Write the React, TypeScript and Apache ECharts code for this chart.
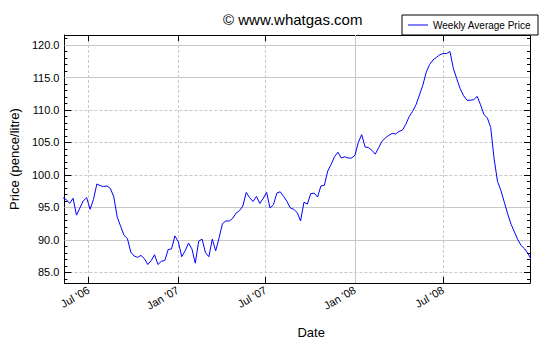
import React, { useEffect, useRef } from "react";
import * as echarts from "echarts";

const FONT = "'Liberation Sans', Arial, sans-serif";
const DAY = 86400000;

// weekly series start (first week is just left of the plot edge and gets clipped)
const seriesStart = Date.UTC(2006, 4, 9);
const seriesStepDays = 7;
const prices = [
  96.5, 96.2, 95.6, 96.4, 93.8, 94.9, 96.0, 96.5, 94.7, 96.2,
  98.6, 98.35, 98.2, 98.3, 97.9, 96.6, 93.5, 92.1, 90.7, 90.2,
  88.1, 87.5, 87.3, 87.6, 87.1, 86.2, 86.8, 87.7, 86.2, 86.7,
  86.8, 88.5, 88.6, 90.6, 89.7, 87.4, 88.3, 89.5, 88.6, 86.4,
  89.8, 90.1, 88.0, 87.4, 90.1, 88.3, 90.3, 92.5, 92.9, 92.9,
  93.3, 94.1, 94.5, 95.2, 97.3, 96.5, 95.9, 96.7, 95.6, 96.4,
  97.3, 94.9, 95.4, 97.2, 97.4, 96.7, 95.9, 94.9, 94.7, 94.2,
  92.9, 95.8, 95.5, 97.1, 97.2, 96.6, 98.3, 98.4, 100.6, 101.6,
  102.8, 103.5, 102.6, 102.8, 102.6, 102.6, 103.0, 105.0, 106.2, 104.3,
  104.2, 103.8, 103.2, 104.2, 105.2, 105.7, 106.1, 106.4, 106.3, 106.7,
  106.9, 107.8, 109.0, 109.8, 110.8, 112.3, 113.8, 115.8, 117.0, 117.7,
  118.1, 118.5, 118.7, 118.7, 119.0, 116.4, 114.8, 113.3, 112.2, 111.5,
  111.5, 111.6, 112.1, 110.8, 109.3, 108.8, 107.3, 102.5, 99.0, 97.6,
  95.8, 94.0, 92.4, 91.2, 90.0, 89.1, 88.6, 87.9, 86.9,
];

const xMin = Date.UTC(2006, 4, 12, 4);
const xMax = Date.UTC(2008, 11, 27);
const yMin = 83.35;
const yMax = 121.55;

const tickDates = [
  Date.UTC(2006, 6, 1),
  Date.UTC(2007, 0, 1),
  Date.UTC(2007, 6, 1),
  Date.UTC(2008, 0, 1),
  Date.UTC(2008, 6, 1),
];
const tickLabels = ["Jul '06", "Jan '07", "Jul '07", "Jan '08", "Jul '08"];

// grid lines that appear solid in the reference (the rest are dashed)
const solidGridY = [90, 95, 115, 120];
const solidGridX = [Date.UTC(2008, 0, 1)];

const seriesName = "Weekly Average Price";
const titleText = "\u00A9 www.whatgas.com";

export default function App() {
  const ref = useRef<HTMLDivElement>(null);

  useEffect(() => {
    if (!ref.current) return;
    const chart = echarts.init(ref.current, undefined, { renderer: "svg" });

    const data = prices.map((v, i) => [seriesStart + i * seriesStepDays * DAY, v]);

    const gridColor = "#c8c8c8";
    const dashed = { color: gridColor, width: 1, type: [3, 2] as any };

    const option: any = {
      animation: false,
      backgroundColor: "#ffffff",
      textStyle: { fontFamily: FONT },
      title: {
        text: titleText,
        left: 223,
        top: 12,
        padding: 0,
        textStyle: { fontSize: 15, fontWeight: "normal", color: "#000", fontFamily: FONT },
      },
      legend: {
        data: [seriesName],
        icon: "rect",
        left: 402,
        top: 15,
        padding: [5, 7, 5, 6],
        itemWidth: 20,
        itemHeight: 1,
        borderColor: "#000",
        borderWidth: 1,
        borderRadius: 0,
        backgroundColor: "#fff",
        textStyle: { fontSize: 10, color: "#000", fontFamily: FONT, padding: [0, 0, 0, 0] },
        z: 10,
      },
      grid: { left: 62, right: 20, top: 35, bottom: 67 },
      xAxis: [
        {
          type: "value",
          position: "bottom",
          min: xMin,
          max: xMax,
          name: "Date",
          nameLocation: "middle",
          nameGap: 43,
          nameTextStyle: { fontSize: 13, color: "#000", fontFamily: FONT, padding: [0, 0, 0, 28] },
          axisLine: { show: true, lineStyle: { color: "#000", width: 1 } },
          axisTick: { show: true, inside: true, length: 6, lineStyle: { color: "#000" }, customValues: tickDates },
          axisLabel: {
            customValues: tickDates,
            rotate: 30,
            margin: 6,
            fontSize: 11,
            color: "#000",
            fontFamily: FONT,
            showMinLabel: true,
            showMaxLabel: true,
            formatter: (v: number) => {
              const idx = tickDates.indexOf(v);
              return idx >= 0 ? tickLabels[idx] : "";
            },
          },
          splitLine: { show: true, lineStyle: dashed },
        },
        {
          type: "value",
          position: "top",
          min: xMin,
          max: xMax,
          axisLine: { show: true, lineStyle: { color: "#000", width: 1 } },
          axisTick: { show: true, inside: true, length: 6, lineStyle: { color: "#000" }, customValues: tickDates },
          axisLabel: { show: false, customValues: tickDates },
          splitLine: { show: false },
        },
      ],
      yAxis: [
        {
          type: "value",
          position: "left",
          min: yMin,
          max: yMax,
          splitNumber: 8,
          name: "Price (pence/litre)",
          nameLocation: "middle",
          nameGap: 37,
          nameTextStyle: { fontSize: 13, color: "#000", fontFamily: FONT },
          axisLine: { show: true, lineStyle: { color: "#000", width: 1 } },
          axisTick: { show: true, inside: true, length: 7, lineStyle: { color: "#000" } },
          minorTick: { show: true, splitNumber: 5, length: 3, lineStyle: { color: "#000" } },
          axisLabel: {
            fontSize: 11,
            margin: 5,
            color: "#000",
            fontFamily: FONT,
            showMinLabel: false,
            showMaxLabel: false,
            formatter: (v: number) => v.toFixed(1),
          },
          splitLine: { show: true, lineStyle: dashed },
        },
        {
          type: "value",
          position: "right",
          min: yMin,
          max: yMax,
          splitNumber: 8,
          axisLine: { show: true, lineStyle: { color: "#000", width: 1 } },
          axisTick: { show: true, inside: true, length: 6, lineStyle: { color: "#000" } },
          minorTick: { show: true, splitNumber: 5, length: 3, lineStyle: { color: "#000" } },
          axisLabel: { show: false },
          splitLine: { show: false },
        },
      ],
      series: [
        {
          name: seriesName,
          type: "line",
          data,
          xAxisIndex: 0,
          yAxisIndex: 0,
          symbol: "none",
          showSymbol: false,
          clip: true,
          z: 3,
          lineStyle: { color: "#0000ff", width: 1 },
          itemStyle: { color: "#0000ff" },
          markLine: {
            silent: true,
            z: 1,
            symbol: ["none", "none"],
            label: { show: false },
            lineStyle: { color: gridColor, width: 1, type: "solid" },
            emphasis: { disabled: true },
            data: [
              ...solidGridY.map((y) => ({ yAxis: y })),
              ...solidGridX.map((x) => ({ xAxis: x })),
            ],
          },
        },
      ],
    };

    chart.setOption(option);
    return () => chart.dispose();
  }, []);

  return (
    <div
      ref={ref}
      style={{ position: "fixed", left: 0, top: 0, width: 550, height: 350, background: "#fff" }}
    />
  );
}
